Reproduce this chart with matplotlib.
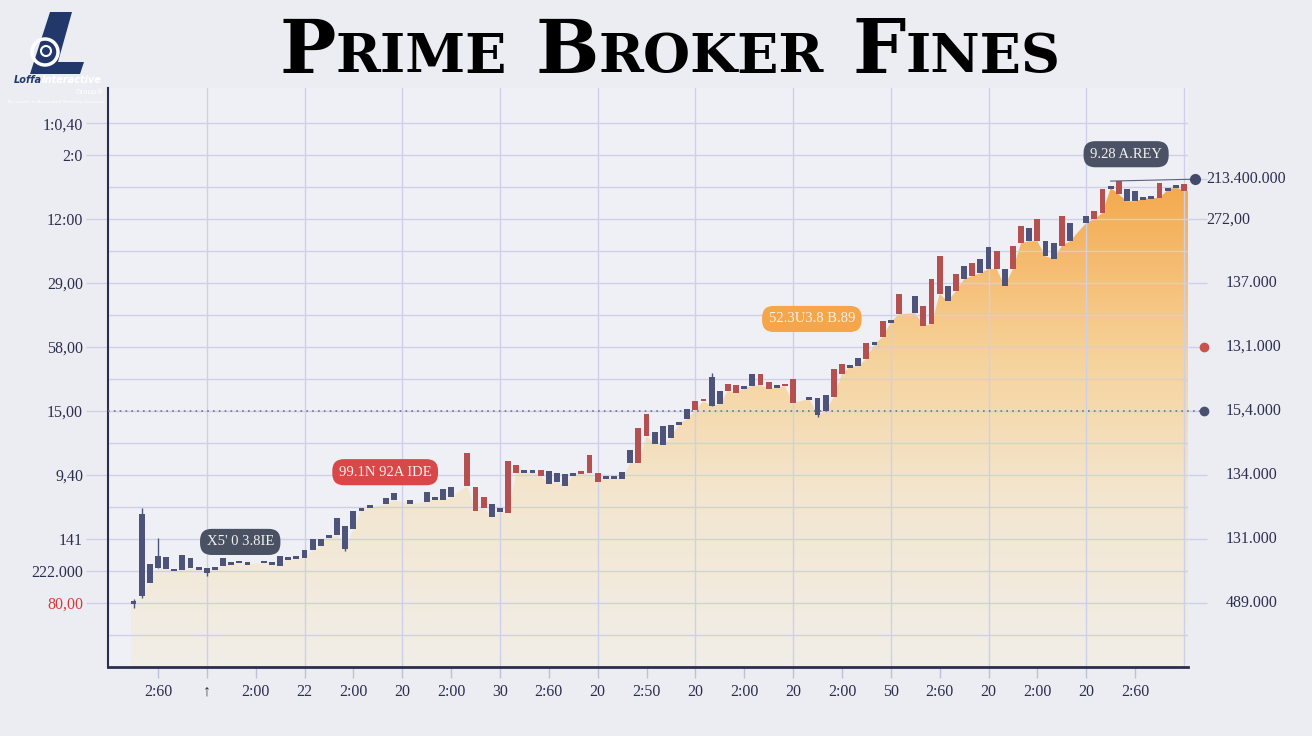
import numpy as np
import matplotlib.pyplot as plt
from matplotlib.colors import LinearSegmentedColormap
from matplotlib.patches import Circle, Polygon

# candles: day, open, close
days = [-3, -2, -1, 0, 1, 2, 3, 4, 5, 6, 7, 8, 9, 10, 11, 13, 14, 15, 16, 17,
        18, 19, 20, 21, 22, 23, 24, 25, 26, 28, 29, 31, 33, 34, 35, 36, 38, 39, 40, 41,
        42, 43, 44, 45, 46, 47, 48, 49, 50, 51, 52, 53, 54, 55, 56, 57, 58, 59, 60, 61,
        62, 63, 64, 65, 66, 67, 68, 69, 70, 71, 72, 73, 74, 75, 76, 77, 78, 80, 81, 82,
        83, 84, 85, 86, 87, 88, 89, 90, 91, 93, 94, 95, 96, 97, 98, 99, 100, 101, 102, 103,
        104, 105, 106, 107, 108, 109, 110, 111, 112, 114, 115, 116, 117, 118, 119, 120, 121, 122, 123, 124,
        125, 126]
opens = [19.7, 22.2, 26.3, 30.9, 30.6, 30.0, 30.3, 30.9, 30.6, 29.4, 30.3, 31.6, 32.2, 32.5, 32.2, 32.5, 32.2, 31.6, 33.8, 34.1,
         34.1, 36.6, 37.8, 40.6, 41.3, 36.9, 43.1, 49.1, 49.7, 50.9, 52.2, 50.9, 51.6, 52.5, 52.2, 53.1, 66.9, 56.3, 53.1, 46.9,
         48.4, 64.4, 63.1, 61.0, 61.0, 61.6, 57.2, 57.8, 56.6, 60.0, 61.3, 66.3, 60.6, 59.1, 59.1, 58.8, 63.8, 74.7, 79.1, 69.7,
         69.4, 71.6, 76.0, 77.5, 83.1, 83.8, 81.6, 82.2, 88.4, 88.1, 87.2, 87.8, 91.6, 89.1, 87.5, 88.4, 90.0, 83.8, 78.8, 80.0,
         93.1, 94.7, 93.8, 94.1, 101.3, 101.0, 108.1, 107.8, 116.6, 110.6, 112.8, 121.3, 128.4, 114.4, 122.8, 121.3, 126.3, 123.1, 124.4, 130.0,
         119.1, 131.6, 137.8, 133.1, 140.0, 128.4, 127.5, 140.9, 133.1, 138.8, 142.5, 149.4, 149.7, 151.9, 145.6, 145.6, 146.3, 146.6, 151.3, 149.1,
         150.0, 150.9]
closes = [20.6, 47.8, 32.2, 34.7, 34.4, 30.6, 35.0, 34.1, 30.9, 30.9, 31.3, 34.1, 32.5, 33.1, 32.5, 33.1, 32.5, 34.7, 34.1, 34.4,
          36.6, 40.0, 40.0, 40.9, 46.6, 44.1, 48.8, 49.4, 50.6, 52.8, 54.4, 52.2, 54.7, 52.8, 55.6, 56.3, 56.6, 48.8, 49.7, 50.9,
          49.7, 48.1, 60.6, 61.3, 61.3, 59.7, 61.3, 60.6, 60.3, 60.3, 60.3, 60.6, 57.8, 59.4, 59.4, 60.9, 67.8, 63.8, 72.2, 73.4,
          75.3, 75.6, 76.3, 80.6, 80.3, 83.1, 90.6, 86.3, 86.3, 85.6, 87.5, 91.6, 88.1, 86.9, 87.8, 87.8, 82.5, 84.1, 84.1, 85.0,
          84.4, 91.6, 94.1, 96.6, 96.3, 101.3, 103.1, 108.1, 110.3, 115.9, 106.6, 107.2, 116.6, 119.1, 117.5, 125.3, 122.2, 127.5, 131.3, 124.4,
          124.4, 124.4, 132.5, 137.2, 133.1, 133.1, 132.5, 131.6, 138.8, 140.9, 140.0, 141.9, 150.0, 147.8, 149.4, 148.8, 146.6, 146.9, 146.6, 149.4,
          150.3, 148.8]
wick_hi = {-3: 21.3, -2: 49.7, 0: 40.3, 68: 91.9}
wick_lo = {-3: 18.4, -2: 21.6, 6: 28.4, 23: 36.3, 81: 78.1}

x_ticks = list(range(0, 121, 6))
x_labels = ["2:60", "\u2191", "2:00", "22", "2:00", "20", "2:00", "30", "2:60", "20", "2:50",
            "20", "2:00", "20", "2:00", "50", "2:60", "20", "2:00", "20", "2:60"]
left_ticks = [170, 160, 140, 120, 100, 80, 60, 40, 30, 20]
left_labels = ["1:0,40", "2:0", "12:00", "29,00", "58,00", "15,00", "9,40", "141", "222.000", "80,00"]
right_ticks = [152.5, 140, 120, 100, 80, 60, 40, 20]
right_labels = ["213.400.000", "272,00", "137.000", "13,1.000", "15,4.000", "134.000", "131.000", "489.000"]
callouts = ["X5' 0 3.8IE", "99.1N 92A IDE", "52.3U3.8 B.89", "9.28 A.REY"]

navy = "#4e5379"
red = "#b4504f"
ink = "#2b2e4f"
gridc = "#cdd0e8"
serif = ["Liberation Serif", "DejaVu Serif"]

fig = plt.figure(figsize=(13.12, 7.36), dpi=100, facecolor="#ecedf2")
ax = fig.add_axes([108 / 1312, 1 - 667 / 736, 1080 / 1312, 579 / 736])
ax.set_facecolor("#eff0f5")
ax.set_xlim(-6.14, 126.5)
ax.set_ylim(0, 181)

# gradient area under the candles
fill_top = [min(o, c) for o, c in zip(opens, closes)]
fx = [days[0] - 0.3] + days + [126.5]
fy = [fill_top[0]] + fill_top + [fill_top[-1]]
poly = ax.fill_between(fx, fy, 0, facecolor="none", edgecolor="none")
cmap = LinearSegmentedColormap.from_list("fade", [(0, "#f1eee8"), (0.35, "#f3e6cf"),
                                                   (0.62, "#f6d39c"), (1, "#f4a646")])
grad = np.linspace(0, 1, 256).reshape(-1, 1)
im = ax.imshow(grad, extent=[-6.14, 126.5, 0, 155], origin="lower", aspect="auto",
               cmap=cmap, zorder=1)
im.set_clip_path(poly.get_paths()[0], ax.transData)

# grid
for v in range(10, 171, 10):
    ax.axhline(v, color=gridc, lw=1, zorder=2)
for d in range(6, 127, 12):
    ax.axvline(d, color=gridc, lw=1, zorder=2)

# candles
for d, o, c in zip(days, opens, closes):
    col = red if c < o else navy
    lo_b, hi_b = min(o, c), max(o, c)
    if hi_b - lo_b < 0.8:
        mid = (hi_b + lo_b) / 2
        lo_b, hi_b = mid - 0.4, mid + 0.4
    ax.bar(d, hi_b - lo_b, bottom=lo_b, width=0.72, color=col, zorder=4)
    h = wick_hi.get(d, hi_b)
    l = wick_lo.get(d, lo_b)
    if h > hi_b or l < lo_b:
        ax.vlines(d, l, h, color=col, lw=1, zorder=3)

# reference line and markers on the right
ax.plot([-6.14, 128.5], [80, 80], ls=(0, (1, 2.5)), color="#6e7392", lw=1.2, zorder=3, clip_on=False)
ax.plot([117, 127.3], [151.9, 152.5], color="#5a6080", lw=0.8, zorder=5, clip_on=False)
ax.plot([127.3], [152.5], "o", ms=7, color="#434a69", zorder=6, clip_on=False)
ax.plot([128.5], [100], "o", ms=6, color="#c8524e", zorder=6, clip_on=False)
ax.plot([128.5], [80], "o", ms=6, color="#4a5070", zorder=6, clip_on=False)

# ticks
ax.set_xticks(x_ticks)
ax.set_xticklabels(x_labels, family=serif, fontsize=11.5, color=ink)
ax.set_yticks(left_ticks)
ax.set_yticklabels(left_labels, family=serif, fontsize=11.5, color=ink)
ax.get_yticklabels()[-1].set_color("#d23c3c")
ax.tick_params(axis="x", length=8, width=1, color="#bcc0d8", pad=4)
ax.tick_params(axis="y", length=16, width=1, color=gridc, pad=2)
sec = ax.secondary_yaxis("right")
sec.set_yticks(right_ticks)
sec.set_yticklabels([""] * len(right_ticks))
sec.tick_params(length=14, width=1, color=gridc)
sec.spines["right"].set_visible(False)
for v, lab in zip(right_ticks, right_labels):
    off = 13 if v > 130 else 27
    ax.annotate(lab, xy=(1, v), xycoords=("axes fraction", "data"), xytext=(off, 0),
                textcoords="offset points", va="center", ha="left", family=serif,
                fontsize=11.5, color=ink, annotation_clip=False)

for s in ["top", "right"]:
    ax.spines[s].set_visible(False)
ax.spines["left"].set_color(ink)
ax.spines["left"].set_linewidth(1.5)
ax.spines["bottom"].set_color(ink)
ax.spines["bottom"].set_linewidth(2)

# callout pills
pill_spots = [(10.1, 39.1, "#4a5163"), (27.9, 60.9, "#d94848"),
              (80.3, 108.8, "#f5a54a"), (118.9, 160.3, "#4b5266")]
for lab, (px, py, fc) in zip(callouts, pill_spots):
    ax.text(px, py, lab, ha="center", va="center", family=serif, fontsize=10.5,
            color="#f4f1ee", zorder=7,
            bbox=dict(boxstyle="round,pad=0.45,rounding_size=0.8", fc=fc, ec="none"))

# title with small caps
fig.canvas.draw()
r = fig.canvas.get_renderer()
words = [("P", "RIME"), ("B", "ROKER"), ("F", "INES")]
pieces = []
for big, small in words:
    t1 = fig.text(0, 1 - 73 / 736, big, fontsize=54, fontweight="bold", family="DejaVu Serif")
    t2 = fig.text(0, 1 - 73 / 736, small, fontsize=39, fontweight="bold", family="DejaVu Serif")
    pieces.append((t1, t2))
gap = 28
widths = [(a.get_window_extent(r).width, b.get_window_extent(r).width) for a, b in pieces]
total = sum(a + b for a, b in widths) + gap * (len(pieces) - 1)
x = 670 - total / 2
for (a, b), (wa, wb) in zip(pieces, widths):
    a.set_x(x / 1312)
    b.set_x((x + wa) / 1312)
    x += wa + wb + gap

# logo
logo_l = [(50, 12), (72, 12), (58, 62), (84, 62), (80, 74), (30, 74)]
fig.add_artist(Polygon([(px / 1312, 1 - py / 736) for px, py in logo_l],
                       closed=True, transform=fig.transFigure, fc="#22386b", ec="none"))
fig.add_artist(Circle((0.45, 7.36 - 0.52), 0.13, transform=fig.dpi_scale_trans,
                      fc="none", ec="white", lw=2.5))
fig.add_artist(Circle((0.46, 7.36 - 0.51), 0.05, transform=fig.dpi_scale_trans,
                      fc="#22386b", ec="white", lw=1.5))
fig.text(14 / 1312, 1 - 83 / 736, "Loffa", fontsize=7, fontweight="bold", style="italic",
         color="#22386b")
fig.text(42 / 1312, 1 - 83 / 736, "Interactive", fontsize=7, fontweight="bold", style="italic",
         color="white")
fig.text(76 / 1312, 1 - 94 / 736, "Group\u00ae", fontsize=5, color="white")
fig.text(6 / 1312, 1 - 103 / 736, "The Leader in Automated Workflow Solutions", fontsize=3.2,
         color="white")

fig.savefig("out.png", dpi=100, facecolor=fig.get_facecolor())
